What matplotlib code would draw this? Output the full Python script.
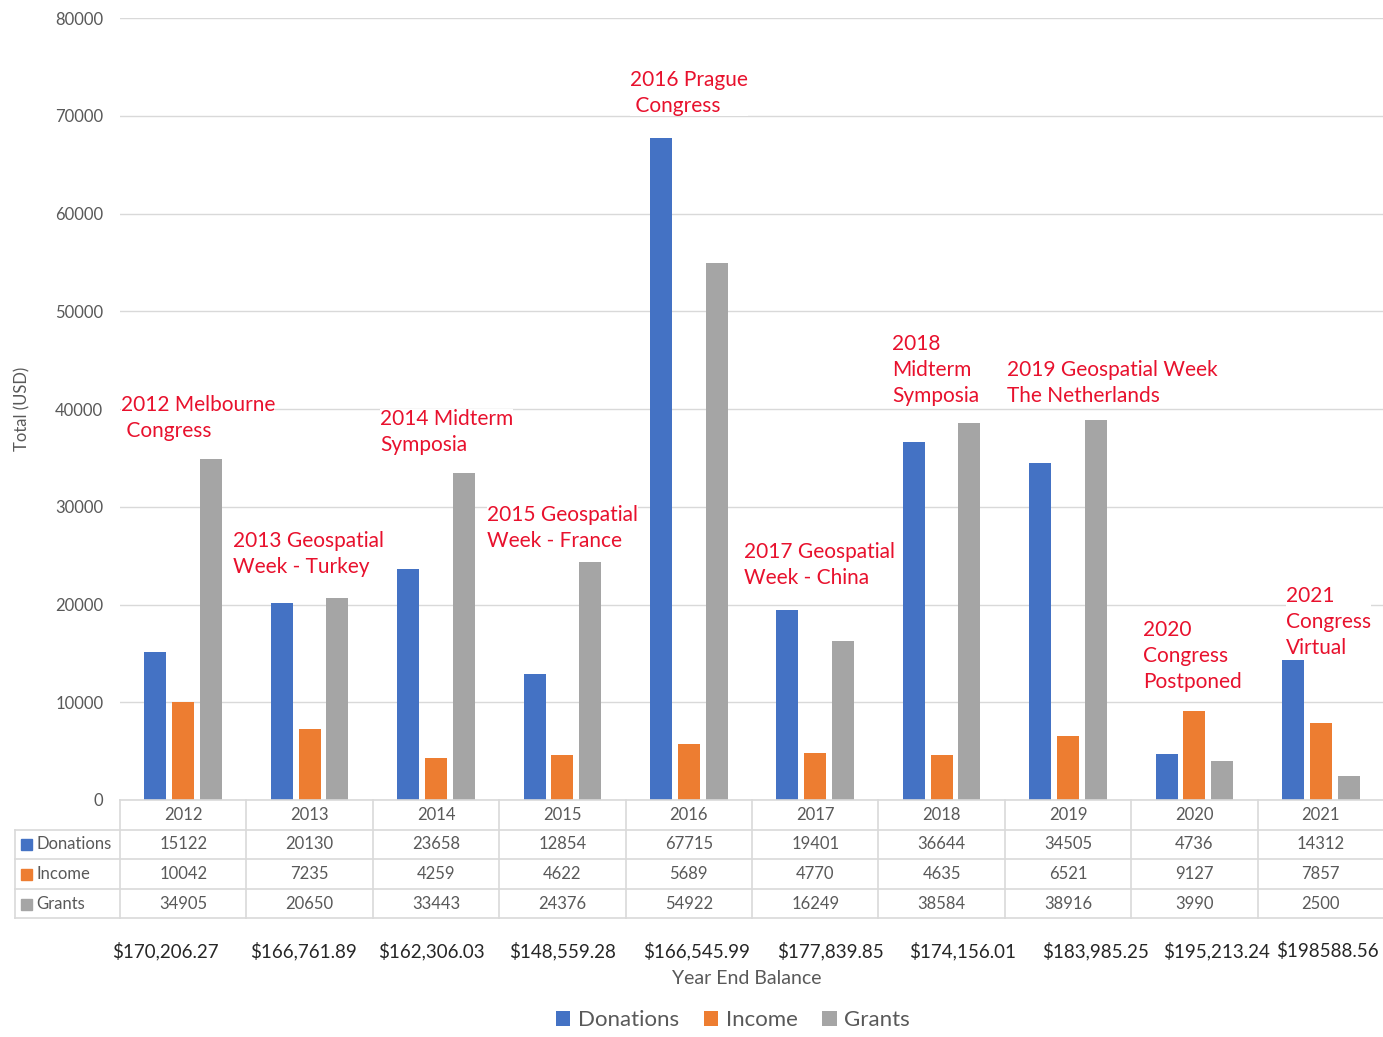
import matplotlib
matplotlib.use("Agg")
import matplotlib.pyplot as plt
import matplotlib.transforms as mtransforms
from matplotlib.patches import Patch
import numpy as np

plt.rcParams['font.family'] = ['Lato', 'DejaVu Sans']

years = ['2012', '2013', '2014', '2015', '2016', '2017', '2018', '2019', '2020', '2021']
donations = [15122, 20130, 23658, 12854, 67715, 19401, 36644, 34505, 4736, 14312]
income = [10042, 7235, 4259, 4622, 5689, 4770, 4635, 6521, 9127, 7857]
grants = [34905, 20650, 33443, 24376, 54922, 16249, 38584, 38916, 3990, 2500]
balances = ['$170,206.27', '$166,761.89', '$162,306.03', '$148,559.28', '$166,545.99',
            '$177,839.85', '$174,156.01', '$183,985.25', '$195,213.24', '$198588.56']
events = ['2012 Melbourne\n Congress', '2013 Geospatial\nWeek - Turkey', '2014 Midterm\nSymposia',
          '2015 Geospatial\nWeek - France', '2016 Prague\n Congress', '2017 Geospatial\nWeek - China',
          '2018\nMidterm\nSymposia', '2019 Geospatial Week\nThe Netherlands',
          '2020\nCongress\nPostponed', '2021\nCongress\nVirtual']

series_names = ['Donations', 'Income', 'Grants']
series = [donations, income, grants]
colors = ['#4472C4', '#ED7D31', '#A5A5A5']

# layout (pixel positions in figure)
event_pos = [(121, 395), (233, 531), (380, 409), (487, 505), (630, 70), (744, 542),
             (892, 334), (1007, 360), (1143, 620), (1286, 586)]
balance_x = [165, 303, 431, 563, 697, 830, 963, 1096, 1217, 1327]

W, H = 1383, 1037
fig = plt.figure(figsize=(W / 100, H / 100), dpi=100)
ax = fig.add_axes([120 / W, 1 - 800 / H, 1264 / W, 782 / H])

x = np.arange(len(years))
offs = [-0.22, 0.0, 0.22]
bw = 0.175
for s, vals, c, o in zip(series_names, series, colors, offs):
    ax.bar(x + o, vals, width=bw, color=c, zorder=2, label=s)

ax.set_xlim(-0.5, len(years) - 0.5)
ax.set_ylim(0, 80000)
ax.set_yticks(np.arange(0, 80001, 10000))
ax.yaxis.grid(True, color='#D9D9D9', linewidth=1, zorder=0)
ax.set_axisbelow(True)
for sp in ax.spines.values():
    sp.set_visible(False)
ax.tick_params(axis='y', length=0, labelsize=12, labelcolor='#595959', pad=12)
ax.set_xticks([])
ax.set_ylabel('Total (USD)', fontsize=12, color='#595959', labelpad=18)

# data table under the axis
tr = mtransforms.blended_transform_factory(ax.transData, ax.transAxes)

def yfrac(py):
    return (800 - py) / 782.0

line_c = '#D9D9D9'
row_y = [815, 844, 874, 904]
hlines = [800, 830, 859, 889, 918]
left_col = (15 - 120) / 126.4 - 0.5
right_x = len(years) - 0.5
ax.plot([-0.5, right_x], [yfrac(800)] * 2, transform=tr, color=line_c, lw=1.2, clip_on=False)
for hy in hlines[1:]:
    ax.plot([left_col, right_x], [yfrac(hy)] * 2, transform=tr, color=line_c, lw=1.2, clip_on=False)
for i in range(len(years) + 1):
    ax.plot([i - 0.5] * 2, [yfrac(800), yfrac(918)], transform=tr, color=line_c, lw=1.2, clip_on=False)
ax.plot([left_col] * 2, [yfrac(830), yfrac(918)], transform=tr, color=line_c, lw=1.2, clip_on=False)

for i, yr in enumerate(years):
    ax.text(i, yfrac(row_y[0]), yr, transform=tr, ha='center', va='center', fontsize=12, color='#595959')
    for r, vals in enumerate(series):
        ax.text(i, yfrac(row_y[r + 1]), str(vals[i]), transform=tr, ha='center', va='center',
                fontsize=12, color='#595959')

for r, (s, c) in enumerate(zip(series_names, colors)):
    yy = 1 - row_y[r + 1] / H
    fig.patches.append(plt.Rectangle((21 / W, yy - 5.5 / H), 11 / W, 11 / H, transform=fig.transFigure,
                                     color=c, figure=fig))
    fig.text(36 / W, yy, s, ha='left', va='center', fontsize=12, color='#595959')

# year-end balances
for bx, b in zip(balance_x, balances):
    fig.text(bx / W, 1 - 951 / H, b, ha='center', va='center', fontsize=13.5, color='#262626')
fig.text(747 / W, 1 - 978 / H, 'Year End Balance', ha='center', va='center', fontsize=14, color='#595959')

# event annotations
for (px, py), t in zip(event_pos, events):
    fig.text(px / W, 1 - py / H, t, ha='left', va='top', fontsize=15, color='#E8112D',
             linespacing=1.38,
             bbox=dict(facecolor='white', edgecolor='none', pad=0))

# legend
handles = [Patch(facecolor=c, label=s) for s, c in zip(series_names, colors)]
fig.legend(handles=handles, loc='center', bbox_to_anchor=(733 / W, 1 - 1020 / H), ncol=3,
           frameon=False, fontsize=16, handlelength=0.65, handleheight=0.65, handletextpad=0.35,
           columnspacing=1.1, labelcolor='#595959')

fig.savefig('out.png', dpi=100, facecolor='white')
